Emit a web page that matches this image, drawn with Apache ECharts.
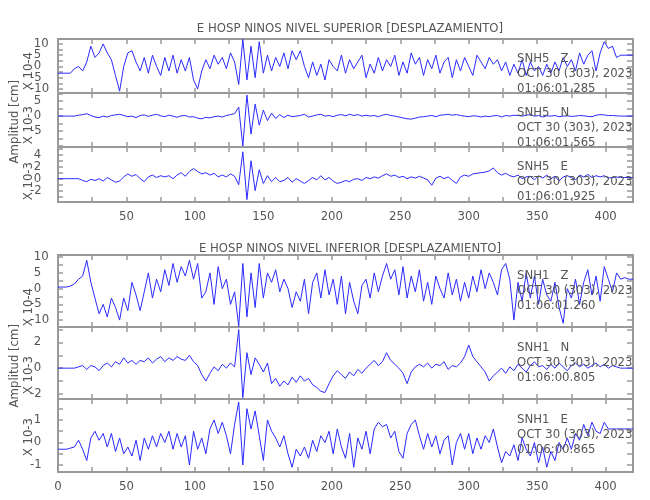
<!DOCTYPE html>
<html>
<head>
<meta charset="utf-8">
<script src="https://cdn.jsdelivr.net/npm/echarts@6/dist/echarts.min.js"></script>
<style>html,body{margin:0;padding:0;background:#fff}#main{width:650px;height:500px}</style>
</head>
<body>
<div id="main"></div>
<script>
// muestras cada 3 s
var STEP = 3;
var snh5Z = [-3,-3,-3,-3,-1,0,-2,2,9,4, 6,10,6,3,-4,-11,0,6,7,2, -2,4,-3,5,0,-4,4,-2,5,-3,
  3,-2,4,-6,-10,-2,3,-1,5,1, 4,-1,6,2,-8,12,-6,9,-5,11, -3,5,-2,4,0,6,-1,7,3,7,
  0,-5,2,-4,1,-6,3,0,-2,5, -3,3,-1,2,5,-5,1,-3,4,-2, 3,0,5,-4,2,-3,6,1,4,-4,
  3,-1,5,-3,2,4,-5,3,-2,4, 0,-4,5,2,-1,4,1,3,-2,2, -4,1,-3,3,-4,2,-2,0,-4,1,
  -3,2,-2,4,0,3,-2,6,1,5, 7,-2,6,11,8,9,4,5,5,5, 5];
var snh5N = [0,0,0,0,0,0.3,0.5,0.8,0.2,-0.3, -0.5,0,-0.3,0.2,0.4,0.6,0.2,-0.2,0,-0.5, 0.2,0.4,-0.1,0.3,0.6,0.1,-0.2,0.3,0,-0.4,
  0.1,0.2,-0.3,-0.2,-0.7,-0.9,-0.4,-0.6,-0.2,0, -0.3,0.2,0.5,0.8,3,-10,7,-6,4,-3, 2,-1.5,1,-0.8,0.5,-0.5,0.3,-0.2,0,0.2,
  0.6,-0.3,0,0.4,0.6,0,0.2,-0.2,0.3,0.5, 0.1,0.6,0.2,0.5,0,0.3,0,0.2,-0.2,0.3, 0.6,0.2,0,-0.3,-0.6,-0.9,-1,-0.7,-0.3,-0.2,
  0,0.2,-0.2,0.3,0.4,0.6,0.3,0.5,0.2,0, -0.2,0.1,0,-0.3,0,-0.2,0.1,0.2,-0.3,0.2, 0,0.3,0.2,0,0.3,0.5,0,0.2,-0.3,0.1,
  0,0.2,-0.2,0,0.1,-0.1,0,0.2,0.1,-0.1, -0.2,0.3,0.5,0.4,0.2,0.2,0.1,0,0,0, 0];
var snh5E = [0,0,0,0,0,0,-0.3,-0.5,-0.1,-0.3, 0,-0.4,0.2,-0.2,-0.6,-0.4,0.3,0.8,0.4,0.7, 0,-0.5,0.3,0.6,0.2,0.5,0.3,0.5,0,0.6,
  1,0.4,1.2,1.7,1.2,0.8,1,0.6,0.9,0.3, 0.6,0.3,0.8,0.4,-1,4.5,-3.5,3,-2,1.5, -0.8,0.5,-0.5,0.2,-0.5,-0.3,0.2,-0.6,0,-0.4,
  -0.8,-0.3,0.2,-0.2,0.5,-0.2,0.2,-0.4,-0.8,-0.6, -0.3,-0.5,-0.1,0,-0.3,0.2,0,0.3,0.1,0.5, 0.8,0.4,0.6,0.2,0.4,0,0.3,0.1,0.4,0.1,
  -0.2,-1.1,0.1,0.4,0,0.3,-0.3,-0.8,0.3,0.6, 0.4,0.8,0.9,1,1.1,1.3,1.8,1,0.6,0.9, 0.5,0.3,0.6,0,0.3,0.4,-0.2,0.5,0.1,0.6,
  0,0.4,-0.4,0.3,0.5,0.2,-0.2,0.6,0.3,0.7, 0.2,0.5,0.3,0.5,0.1,0.2,0.3,0.2,0.2,0.2, 0.2];
var snh1Z = [0.5,0.5,0.5,0.8,1.5,3,4,9,2,-3, -8,-5,-9,-3,-6,-10,-3,-7,2,-2, -7,-1,5,-3,3,-1,6,1,8,2,
  7,4,9,3,8,-3,-1,5,-5,7, 0,3,-5,-1,-12,8,-9,5,-6,8, -3,5,2,6,-1,3,0,-6,-1,-4,
  3,-8,2,5,-3,6,-2,3,-5,4, -8,2,-4,-8,1,3,-3,5,-1,4, 8,3,6,-2,7,-3,4,-1,6,-4,
  2,-5,4,0,-3,5,-2,3,-4,2, -3,4,-1,6,0,5,2,-2,6,8, 3,-10,2,-4,5,-3,4,-5,3,-2,
  -4,2,-6,-11,0,-3,3,-5,2,6, -2,4,-4,7,3,-1,5,3,3.5,3, 3];
var snh1N = [0,0,0,0,0,0.1,0.2,-0.1,0.2,0.1, -0.2,0.2,0.4,0.1,0.5,0.3,0.8,0.4,0.6,0.3, 0.6,0.5,0.8,0.4,0.7,0.9,0.5,0.8,0.6,0.9,
  0.7,0.6,1,0.5,0.2,-0.5,-1,-0.4,0.1,-0.2, 0.3,0,0.4,0.1,3,-2.3,1.2,-0.5,0.8,0.3, -0.3,0.4,-1.2,-0.8,-1.4,-1,-1.3,-0.7,-1.1,-0.6,
  -1,-0.8,-1.3,-1.5,-1.8,-1.9,-1.2,-0.6,-0.2,-0.5, -0.8,-0.3,-0.6,-0.1,-0.4,0,0.3,0.6,0.2,0.5, 1.2,0.6,0.3,0,-0.4,-1.2,-0.3,0.1,0.3,0.1,
  0.4,0,0.3,0.2,0.5,-0.1,0.2,0.1,0.4,0.9, 1.8,0.9,0.5,0.1,-0.3,-1,-0.6,-0.3,0,-0.4, 0.1,-0.2,0.3,0,-0.3,0.2,0.5,0.1,0.2,-0.1,
  0.3,0,0.4,0.1,-0.2,0.2,0.4,0.1,0.3,0, 0.2,0.4,0.1,0.3,0,0.2,0.1,0,0,0, 0];
var snh1E = [-0.3,-0.3,-0.3,-0.25,-0.2,0.1,-0.3,-0.8,0.2,0.5, 0.1,0.4,-0.2,0.4,-0.4,0.2,-0.5,-0.2,-0.6,0.1, -0.8,0.2,-0.3,0.3,-0.2,0.4,0,0.5,-0.3,0.4,
  -0.2,0.3,-1,0.5,-0.3,0.2,-0.5,0.6,1,0.4, 0.9,0.3,-0.5,0.8,1.8,-1,1.5,0.6,1.4,0.3, -0.8,1,0.5,0.2,-0.2,0.3,-0.5,-1.1,-0.3,-0.6,
  -0.2,-0.7,0.1,-0.4,0.3,0,0.5,-0.5,0.6,-0.2, -0.7,0.4,-1.1,0.2,-0.3,0.5,-0.5,0.6,0.9,0.7, 0.8,0.2,0.5,-0.4,-0.7,0.4,0.8,1,0.3,-0.3,
  0.4,-0.2,0.3,-0.5,0.1,0.3,-1,0,0.4,-0.3, 0.4,-0.5,0.2,-0.3,0.3,0,0.6,-0.2,-0.9,-0.4, -0.6,-0.1,-0.8,0.2,-0.3,-0.6,0,-0.9,-0.2,-1.1,
  -0.4,-0.8,0,-0.3,0.2,-0.3,0.4,0.1,0.8,0.3, 0.9,0.5,0.4,0.9,0.6,0.6,0.6,0.6,0.6,0.6, 0.6];

var traces = [snh5Z, snh5N, snh5E, snh1Z, snh1N, snh1E];
var yMin = [-11.8, -10.3, -3.9, -12.2, -2.4, -1.31];
var yMax = [12.2, 7.7, 5.3, 10.7, 3.2, 1.93];
var yLabels = [[-10,-5,0,5,10], [-5,0,5], [-2,0,2,4], [-10,-5,0,5,10], [-2,0,2], [-1,0,1]];
var yTicks = [[-10,-7.5,-5,-2.5,0,2.5,5,7.5,10], [-10,-7.5,-5,-2.5,0,2.5,5,7.5], [-3,-2,-1,0,1,2,3,4,5],
  [-12.5,-10,-7.5,-5,-2.5,0,2.5,5,7.5,10], [-2,-1,0,1,2,3], [-1,-0.5,0,0.5,1,1.5]];
var stations = ['SNH5   Z', 'SNH5   N', 'SNH5   E', 'SNH1   Z', 'SNH1   N', 'SNH1   E'];
var times = ['01:06:01.285', '01:06:01.565', '01:06:01.925', '01:06:01.260', '01:06:00.805', '01:06:00.865'];
var expo = ['X 10-4', 'X 10-3', 'X 10-3', 'X 10-4', 'X 10-3', 'X 10-3'];
var titles = ['E HOSP NINOS NIVEL SUPERIOR [DESPLAZAMIENTO]', 'E HOSP NINOS NIVEL INFERIOR [DESPLAZAMIENTO]'];

var FONT = "'DejaVu Sans Condensed', 'Liberation Sans Narrow', sans-serif";
var GRAY = '#999';
var TXT = '#555';
var tops = [39, 93, 147, 255, 327, 399];
var heights = [54, 54, 55, 72, 72, 73];
var expoY = [72, 126, 182, 308, 376, 438];

var grids = [], xAxes = [], yAxes = [], series = [], graphics = [];
for (var k = 0; k < 6; k++) {
  grids.push({left: 58, right: 17, top: tops[k], height: heights[k]});
  var isBottom = (k === 2 || k === 5);
  var line = {show: true, onZero: false, lineStyle: {color: GRAY, width: 2}};
  var tick = {show: true, inside: true, length: 5, lineStyle: {color: GRAY, width: 1.5}};
  xAxes.push({gridIndex: k, type: 'value', min: 0, max: 420, interval: 25, position: 'bottom',
    axisLine: line, axisTick: tick, splitLine: {show: false},
    axisLabel: {show: isBottom, showMaxLabel: false, margin: 8, color: TXT, fontFamily: FONT, fontSize: 13,
      formatter: (function (kk) { return function (v) {
        if (v % 50 !== 0) return '';
        if (v === 0 && kk === 2) return '';
        return String(v);
      }; })(k)}});
  xAxes.push({gridIndex: k, type: 'value', min: 0, max: 420, interval: 25, position: 'top',
    axisLine: line, axisTick: tick, splitLine: {show: false}, axisLabel: {show: false}});
  yAxes.push({gridIndex: k, type: 'value', min: yMin[k], max: yMax[k], position: 'left',
    axisLine: line, splitLine: {show: false},
    axisTick: {show: true, inside: true, length: 5, lineStyle: {color: GRAY, width: 1.5}, customValues: yTicks[k]},
    axisLabel: {show: false}});
  yAxes.push({gridIndex: k, type: 'value', min: yMin[k], max: yMax[k], position: 'right',
    axisLine: line, splitLine: {show: false},
    axisTick: {show: true, inside: true, length: 6, lineStyle: {color: GRAY, width: 1.5}, customValues: yTicks[k]},
    axisLabel: {show: false}});
  series.push({type: 'line', xAxisIndex: 2 * k, yAxisIndex: 2 * k, showSymbol: false, animation: false,
    lineStyle: {color: '#2a2aff', width: 1}, z: 1,
    data: traces[k].map(function (v, i) { return [i * STEP, v]; })});

  var ty = tops[k] + (k < 3 ? 21 : 22);
  var dy = 15;
  [stations[k], 'OCT 30 (303), 2023', times[k]].forEach(function (s, j) {
    graphics.push({type: 'text', left: 517, top: ty + j * dy - 8, z: 10,
      style: {text: s, fill: TXT, font: '13px ' + FONT}});
  });
  graphics.push({type: 'text', left: 22, top: expoY[k] - 20, rotation: Math.PI / 2,
    style: {text: expo[k], fill: TXT, font: '13px ' + FONT}});
}
graphics.push({type: 'text', left: 8, top: 80, rotation: Math.PI / 2,
  style: {text: 'Amplitud [cm]', fill: TXT, font: '13px ' + FONT}});
graphics.push({type: 'text', left: 8, top: 324, rotation: Math.PI / 2,
  style: {text: 'Amplitud [cm]', fill: TXT, font: '13px ' + FONT}});

var myChart = echarts.init(document.getElementById('main'));
myChart.setOption({
  backgroundColor: '#fff',
  animation: false,
  title: [
    {text: titles[0], left: 345, top: 17, textAlign: 'center', textStyle: {color: TXT, fontFamily: FONT, fontSize: 13, fontWeight: 'normal'}},
    {text: titles[1], left: 345, top: 237, textAlign: 'center', textStyle: {color: TXT, fontFamily: FONT, fontSize: 13, fontWeight: 'normal'}}
  ],
  grid: grids,
  xAxis: xAxes,
  yAxis: yAxes,
  series: series
});

// etiquetas del eje Y: posición tomada de la escala del eje, en una capa propia
for (var g = 0; g < 6; g++) {
  yLabels[g].forEach(function (v) {
    var py = myChart.convertToPixel({yAxisIndex: 2 * g}, v);
    graphics.push({type: 'text', left: 30, top: py - 7, zlevel: 1, z: 100,
      style: {text: (v < 0 ? '-' : ' ') + Math.abs(v), fill: TXT, font: '13px ' + FONT,
        width: 23, align: 'right'}});
  });
}
myChart.setOption({graphic: graphics});
</script>
</body>
</html>
